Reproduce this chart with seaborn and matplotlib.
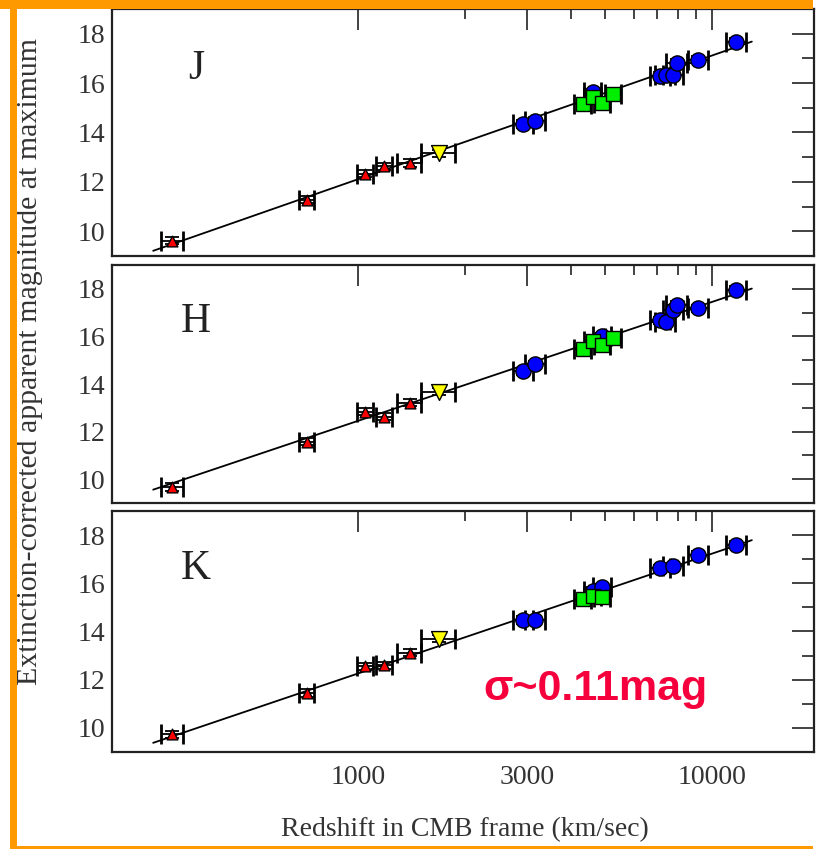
import numpy as np
import pandas as pd
import matplotlib
matplotlib.use("Agg")
import matplotlib.pyplot as plt
import seaborn as sns
from matplotlib.ticker import FixedLocator, FixedFormatter, NullFormatter
from matplotlib.patches import Rectangle

# ---------------- data ----------------
bands = ["J", "H", "K"]

# recession velocities (km/s) in the CMB frame
red_v = [299, 716, 1049, 1187, 1400]
red_xerr = [22, 34, 55, 63, 110]
yellow_v = [1693]
yellow_xerr = [185]
blue_v = [2929, 3163, 4600, 4900, 7130, 7400, 7780, 7950, 9150, 11700]
blue_xerr = [190, 210, 260, 280, 460, 480, 500, 520, 600, 780]
green_v = [4314, 4610, 4900, 5260]
green_xerr = [230, 250, 260, 280]

# extinction-corrected peak magnitudes per band
red_J = [9.62, 11.28, 12.34, 12.63, 12.77]
red_H = [9.67, 11.58, 12.84, 12.63, 13.21]
red_K = [9.74, 11.45, 12.56, 12.59, 13.12]
yellow_J = [13.15]
yellow_H = [13.67]
yellow_K = [13.70]
blue_J = [14.34, 14.48, 15.62, np.nan, 16.30, 16.32, 16.33, 16.81, 16.95, 17.68]
blue_H = [14.54, 14.82, np.nan, 16.00, 16.67, 16.60, 17.09, 17.33, 17.19, 17.97]
blue_K = [14.48, 14.48, 15.70, 15.83, 16.62, np.nan, 16.70, np.nan, 17.17, 17.60]
green_J = [15.15, 15.42, 15.19, 15.56]
green_H = [15.49, 15.80, 15.63, 15.93]
green_K = [15.35, 15.49, 15.45, np.nan]
mag_err = [0.15]

# Hubble-line end points
fit_v = [264, 12950]
fit_J = [9.21, 17.68]
fit_H = [9.56, 18.01]
fit_K = [9.38, 17.79]

x_major = [1000, 3000, 10000]
x_major_labels = ["1000", "3000", "10000"]
x_minor = [2000, 4000, 5000, 6000, 7000, 8000, 9000]
y_major = [10, 12, 14, 16, 18]
y_minor = [11, 13, 15, 17]

band_data = {
    "J": (red_J, yellow_J, blue_J, green_J, fit_J),
    "H": (red_H, yellow_H, blue_H, green_H, fit_H),
    "K": (red_K, yellow_K, blue_K, green_K, fit_K),
}

# ---------------- figure ----------------
sns.set_theme(style="white")
plt.rcParams["font.family"] = ["Liberation Serif", "DejaVu Serif"]

W, H = 822, 849
fig = plt.figure(figsize=(W / 100, H / 100), dpi=100)
fig.patch.set_facecolor("white")

panel_px = [(9, 256), (265, 503), (511, 752)]
left_px, right_px = 112, 814
axes = []
for top, bot in panel_px:
    ax = fig.add_axes([left_px / W, 1 - bot / H, (right_px - left_px) / W, (bot - top) / H])
    axes.append(ax)

palette = {"red": "#FF0000", "yellow": "#FFFF00", "blue": "#0000FF", "green": "#00EE00"}
markers = {"red": "^", "yellow": "v", "blue": "o", "green": "s"}
sizes = {"red": 60, "yellow": 130, "blue": 120, "green": 105}

for i, (ax, band) in enumerate(zip(axes, bands)):
    r, y, b, g, fit = band_data[band]
    df = pd.concat([
        pd.DataFrame({"v": red_v, "mag": r, "xerr": red_xerr, "group": "red"}),
        pd.DataFrame({"v": yellow_v, "mag": y, "xerr": yellow_xerr, "group": "yellow"}),
        pd.DataFrame({"v": blue_v, "mag": b, "xerr": blue_xerr, "group": "blue"}),
        pd.DataFrame({"v": green_v, "mag": g, "xerr": green_xerr, "group": "green"}),
    ], ignore_index=True).dropna()

    sns.lineplot(x=fit_v, y=fit, color="black", linewidth=1.3, ax=ax, zorder=2)

    for grp in ["red", "yellow", "blue", "green"]:
        d = df[df.group == grp]
        eb = ax.errorbar(d.v, d.mag, xerr=d.xerr, fmt="none", ecolor="black",
                         elinewidth=1.3, capsize=7, capthick=2.0, zorder=2.5)
        for c in eb[1]:
            c.set_color("0.55")
        ax.errorbar(d.v, d.mag, yerr=mag_err[0], fmt="none", ecolor="black",
                    elinewidth=1.0, capsize=5, capthick=1.3, zorder=2.5)
        sns.scatterplot(data=d, x="v", y="mag", marker=markers[grp], color=palette[grp],
                        s=sizes[grp], edgecolor="black", linewidth=1.0, ax=ax,
                        legend=False, zorder=3)

    ax.set_xscale("log")
    ax.set_xlim(202, 19400)
    ax.set_ylim(9, 19)
    ax.set_xlabel("")
    ax.set_ylabel("")
    ax.xaxis.set_major_locator(FixedLocator(x_major))
    ax.xaxis.set_minor_locator(FixedLocator(x_minor))
    ax.xaxis.set_minor_formatter(NullFormatter())
    if i == 2:
        ax.xaxis.set_major_formatter(FixedFormatter(x_major_labels))
    else:
        ax.xaxis.set_major_formatter(NullFormatter())
    ax.yaxis.set_major_locator(FixedLocator(y_major))
    ax.yaxis.set_minor_locator(FixedLocator(y_minor))

    ax.tick_params(axis="both", which="both", direction="in", top=True, right=True,
                   color="#222222", width=1.2, labelcolor="#333333", labelsize=20)
    ax.tick_params(axis="y", which="major", length=16, pad=5)
    ax.tick_params(axis="y", which="minor", length=8.5)
    ax.tick_params(axis="x", which="major", length=15, pad=9)
    ax.tick_params(axis="x", which="minor", length=7)
    for sp in ax.spines.values():
        sp.set_color("#222222")
        sp.set_linewidth(1.6)
    ax.set_facecolor("white")

    ax.text(0.12, 0.76, band, transform=ax.transAxes, fontsize=30,
            ha="center", va="center", color="#222222")

fig.text(0.0365, 0.574, "Extinction-corrected apparent magnitude at maximum",
         rotation=90, ha="center", va="center", fontsize=21.5, color="#333333")
fig.text(0.566, 0.0224, "Redshift in CMB frame (km/sec)",
         ha="center", va="center", fontsize=20, color="#333333")
fig.text(0.725, 0.188, "σ~0.11mag", family=["Liberation Sans", "DejaVu Sans"],
         fontweight="bold", fontsize=31, color="#F5003C", ha="center", va="center")

orange = "#FF9900"
fig.add_artist(Rectangle((0, 1 - 8.5 / H), 813 / W, 8.5 / H, transform=fig.transFigure,
                         facecolor=orange, edgecolor="none", zorder=10))
fig.add_artist(Rectangle((10 / W, 0), 7 / W, 1, transform=fig.transFigure,
                         facecolor=orange, edgecolor="none", zorder=10))
fig.add_artist(Rectangle((17 / W, 0), (813 - 17) / W, 3 / H, transform=fig.transFigure,
                         facecolor=orange, edgecolor="none", zorder=10))

fig.savefig("out.png", dpi=100)
